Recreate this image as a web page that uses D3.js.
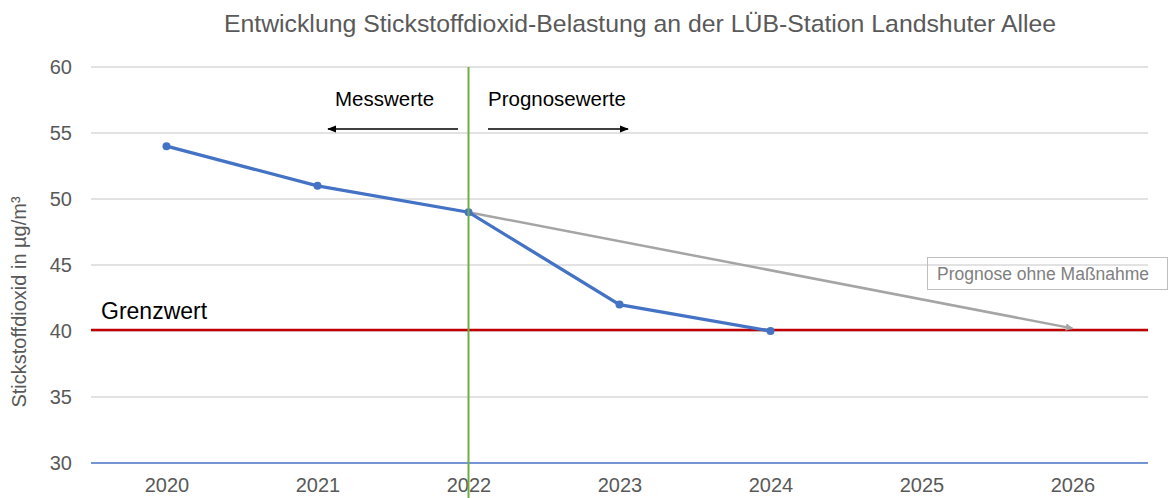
<!DOCTYPE html>
<html>
<head>
<meta charset="utf-8">
<title>NO2 Landshuter Allee</title>
<script src="https://d3js.org/d3.v7.min.js"></script>
<style>
  body { margin: 0; background: #fff; }
  text { font-family: Arial, "Liberation Sans", sans-serif; }
</style>
</head>
<body>
<svg width="1173" height="498"></svg>
<script>
// data
const years = ["2020", "2021", "2022", "2023", "2024", "2025", "2026"]
const measured = [
  { year: "2020", value: 54 },
  { year: "2021", value: 51 },
  { year: "2022", value: 49 },
  { year: "2023", value: 42 },
  { year: "2024", value: 40 }
]
const noAction = [
  { year: "2022", value: 49 },
  { year: "2026", value: 40.2 }
]
const yTicks = [30, 35, 40, 45, 50, 55, 60]
const limitValue = 40
const splitYear = "2022"

const svg = d3.select("svg")
const margin = { top: 67, right: 25, bottom: 35, left: 91 }
const width = +svg.attr("width")
const height = +svg.attr("height")

const x = d3.scalePoint().domain(years).range([margin.left, width - margin.right]).padding(0.5)
const y = d3.scaleLinear().domain([30, 60]).range([463, margin.top])

const defs = svg.append("defs")
defs.append("marker")
  .attr("id", "arrBlack")
  .attr("viewBox", "0 0 10 10")
  .attr("refX", 9).attr("refY", 5)
  .attr("markerWidth", 6).attr("markerHeight", 6)
  .attr("orient", "auto")
  .append("path").attr("d", "M0,1 L10,5 L0,9 z").attr("fill", "#000")
defs.append("marker")
  .attr("id", "arrGrey")
  .attr("viewBox", "0 0 10 10")
  .attr("refX", 9).attr("refY", 5)
  .attr("markerWidth", 3).attr("markerHeight", 3)
  .attr("orient", "auto")
  .append("path").attr("d", "M0,0 L10,5 L0,10 z").attr("fill", "#a5a5a5")

// title
svg.append("text")
  .attr("x", 640).attr("y", 32)
  .attr("text-anchor", "middle")
  .attr("font-size", 24.8).attr("fill", "#595959")
  .text("Entwicklung Stickstoffdioxid-Belastung an der LÜB-Station Landshuter Allee")

// grid
svg.append("g").selectAll("line")
  .data(yTicks.filter(t => t > 30))
  .enter().append("line")
  .attr("x1", margin.left).attr("x2", width - margin.right)
  .attr("y1", d => y(d)).attr("y2", d => y(d))
  .attr("stroke", "#d9d9d9").attr("stroke-width", 1.3)

// y axis labels
const yAxis = d3.axisLeft(y).tickValues(yTicks).tickSize(0).tickPadding(19)
const yg = svg.append("g").attr("transform", `translate(${margin.left},0)`).call(yAxis)
yg.select(".domain").remove()
yg.selectAll("text").attr("font-size", 20).attr("fill", "#595959").attr("font-family", "Arial, 'Liberation Sans', sans-serif")

// x axis
const xAxis = d3.axisBottom(x).tickSize(0).tickPadding(15)
const xg = svg.append("g").attr("transform", `translate(0,${y(30)})`).call(xAxis)
xg.select(".domain").remove()
xg.selectAll("text").attr("font-size", 20).attr("fill", "#595959").attr("font-family", "Arial, 'Liberation Sans', sans-serif")

svg.append("line")
  .attr("x1", margin.left).attr("x2", width - margin.right)
  .attr("y1", y(30)).attr("y2", y(30))
  .attr("stroke", "#4472c4").attr("stroke-width", 1.5)

// y axis title
svg.append("text")
  .attr("transform", `translate(26,302) rotate(-90)`)
  .attr("text-anchor", "middle")
  .attr("font-size", 20).attr("fill", "#595959")
  .text("Stickstoffdioxid in µg/m³")

// limit line
svg.append("line")
  .attr("x1", margin.left).attr("x2", width - margin.right)
  .attr("y1", y(limitValue) - 1).attr("y2", y(limitValue) - 1)
  .attr("stroke", "#c00000").attr("stroke-width", 2.5)
svg.append("text")
  .attr("x", 101).attr("y", y(limitValue) - 12)
  .attr("font-size", 23).attr("fill", "#000")
  .text("Grenzwert")

// forecast without measures
const line = d3.line().x(d => x(d.year)).y(d => y(d.value))
svg.append("path")
  .datum(noAction)
  .attr("d", line)
  .attr("fill", "none").attr("stroke", "#a5a5a5").attr("stroke-width", 2.5)
  .attr("marker-end", "url(#arrGrey)")

// measured / projected
svg.append("path")
  .datum(measured)
  .attr("d", line)
  .attr("fill", "none").attr("stroke", "#4472c4").attr("stroke-width", 3.3)
svg.append("g").selectAll("circle")
  .data(measured)
  .enter().append("circle")
  .attr("cx", d => x(d.year)).attr("cy", d => y(d.value))
  .attr("r", 4).attr("fill", "#4472c4")

// split line
svg.append("line")
  .attr("x1", x(splitYear)).attr("x2", x(splitYear))
  .attr("y1", margin.top).attr("y2", height)
  .attr("stroke", "#70ad47").attr("stroke-width", 2)

// annotations
svg.append("text").attr("x", 335).attr("y", 106)
  .attr("font-size", 20.5).attr("fill", "#000").text("Messwerte")
svg.append("text").attr("x", 488).attr("y", 106)
  .attr("font-size", 20.5).attr("fill", "#000").text("Prognosewerte")
svg.append("line").attr("x1", 458).attr("x2", 328).attr("y1", 129).attr("y2", 129)
  .attr("stroke", "#000").attr("stroke-width", 1.5).attr("marker-end", "url(#arrBlack)")
svg.append("line").attr("x1", 488).attr("x2", 628).attr("y1", 129).attr("y2", 129)
  .attr("stroke", "#000").attr("stroke-width", 1.5).attr("marker-end", "url(#arrBlack)")

// legend box
svg.append("rect")
  .attr("x", 927.5).attr("y", 257.5).attr("width", 240).attr("height", 32)
  .attr("fill", "none").attr("stroke", "#bfbfbf").attr("stroke-width", 1)
svg.append("text").attr("x", 937).attr("y", 280)
  .attr("font-size", 17.5).attr("fill", "#808080").text("Prognose ohne Maßnahme")
</script>
</body>
</html>
